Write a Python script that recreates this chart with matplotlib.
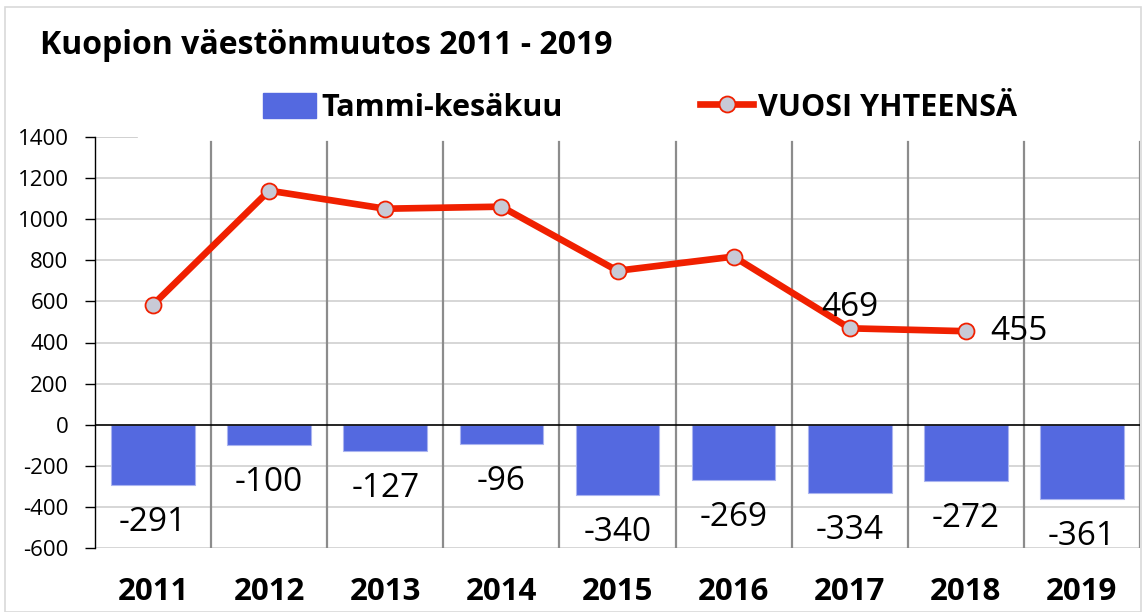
import matplotlib
matplotlib.use("Agg")
import matplotlib.pyplot as plt
from matplotlib.patches import Rectangle
from matplotlib.lines import Line2D
from matplotlib.patches import Patch

years = ["2011", "2012", "2013", "2014", "2015", "2016", "2017", "2018", "2019"]
tammi_kesakuu = [-291, -100, -127, -96, -340, -269, -334, -272, -361]
vuosi_yhteensa = [584, 1139, 1051, 1061, 749, 818, 469, 455]
yticks = [-600, -400, -200, 0, 200, 400, 600, 800, 1000, 1200, 1400]

FONT = ["Open Sans", "DejaVu Sans"]
plt.rcParams['font.family'] = FONT

fig = plt.figure(figsize=(11.42, 6.12), dpi=100)
ax = fig.add_axes([95/1142, 64/612, 1045/1142, 411/612])

# outer frame
fig.patches.append(Rectangle((5/1142, 0), 1136/1142, 605/612, transform=fig.transFigure,
                             fill=False, edgecolor="#d9d9d9", linewidth=1.2))

x = list(range(len(years)))
ax.set_xlim(-0.5, len(years) - 0.5)
ax.set_ylim(-600, 1400)

# gridlines
for t in yticks:
    if t == 0:
        continue
    if t == 1400:
        ax.axhline(t, xmin=0, xmax=0.04, color="#c8c8c8", linewidth=1.2, zorder=0)
    else:
        ax.axhline(t, color="#d0d0d0", linewidth=1.2, zorder=0)
vtop = (1375 + 600) / 2000
for i in range(1, len(years) + 1):
    ax.axvline(i - 0.5, ymin=0, ymax=vtop, color="#8c8c8c", linewidth=1.6, zorder=0)

bar_color = "#5469E0"
ax.bar(x, tammi_kesakuu, width=0.72, color=bar_color, edgecolor="#aab4f0", linewidth=0.8, zorder=2)
ax.axhline(0, color="black", linewidth=1.2, zorder=3)

line_color = "#F02000"
xl = list(range(len(vuosi_yhteensa)))
ax.plot(xl, vuosi_yhteensa, color=line_color, linewidth=4.8, zorder=4, solid_capstyle="round")
ax.plot(xl, vuosi_yhteensa, linestyle="none", marker="o", markersize=11.5,
        markerfacecolor="#C8CAD6", markeredgecolor=line_color, markeredgewidth=1.3, zorder=5)

# bar labels
for xi, v in zip(x, tammi_kesakuu):
    ax.annotate(f"{v}", (xi, v), xytext=(0, -27), textcoords="offset points",
                ha="center", va="center", fontsize=24, color="black", zorder=6)

# line labels (last two)
ax.annotate(f"{vuosi_yhteensa[6]}", (6, vuosi_yhteensa[6]), xytext=(0, 15), textcoords="offset points",
            ha="center", va="center", fontsize=24, color="black", zorder=6)
ax.annotate(f"{vuosi_yhteensa[7]}", (7, vuosi_yhteensa[7]), xytext=(38, 0), textcoords="offset points",
            ha="center", va="center", fontsize=24, color="black", zorder=6)

# axes styling
for s in ["top", "right", "bottom"]:
    ax.spines[s].set_visible(False)
ax.spines["left"].set_color("black")
ax.spines["left"].set_linewidth(1.0)
ax.set_yticks(yticks)
ax.set_yticklabels([str(t) for t in yticks], fontsize=16)
ax.tick_params(axis="y", direction="out", length=7, width=1, pad=12)
ax.set_xticks(x)
ax.set_xticklabels(years, fontsize=22.5, fontweight="bold")
ax.tick_params(axis="x", length=0, pad=21)

# title
fig.text(40/1142, 1 - 45/612, "Kuopion väestönmuutos 2011 - 2019", fontsize=23, fontweight="bold",
         ha="left", va="center")

# legend
handles = [Patch(facecolor=bar_color, edgecolor=bar_color),
           Line2D([0], [0], color=line_color, linewidth=4.8, marker="o", markersize=11.5,
                  markerfacecolor="#C8CAD6", markeredgecolor=line_color, markeredgewidth=1.3)]
leg = fig.legend(handles, ["Tammi-kesäkuu", "VUOSI YHTEENSÄ"], loc="center",
                 bbox_to_anchor=(640/1142, 1 - 108/612), ncol=2, frameon=False,
                 prop={"family": FONT, "weight": "bold", "size": 22},
                 handlelength=1.75, handleheight=0.9, handletextpad=0.15, columnspacing=4.5)

fig.savefig("out.png", dpi=100)
